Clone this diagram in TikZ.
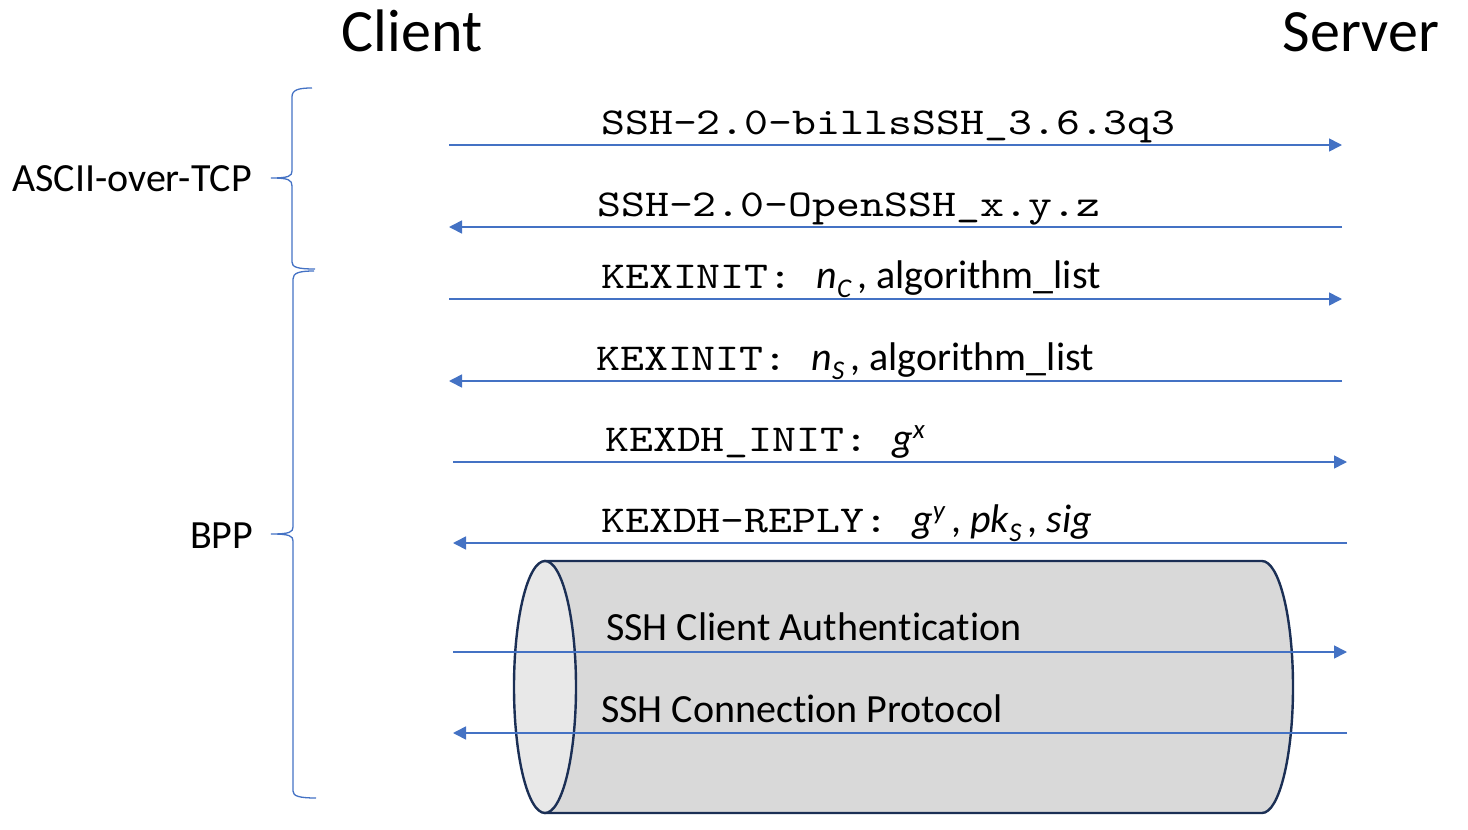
\documentclass[tikz,border=0pt]{standalone}
\usepackage{fontspec}
\setmainfont{Carlito}[Ligatures=NoCommon]
\newfontfamily\cour{lmmono10-regular.otf}[FakeStretch=1.2]
\usetikzlibrary{arrows.meta}
\definecolor{arrowblue}{HTML}{4472C4}
\definecolor{cylline}{HTML}{1B2F55}
\definecolor{cylbody}{HTML}{D9D9D9}
\definecolor{cylface}{HTML}{E8E8E8}
\newcommand\msgtt[1]{{\cour\fontsize{38}{44}\selectfont #1}}
\newcommand\lowidx[1]{\raisebox{-9pt}{\fontsize{27}{30}\selectfont\itshape #1}}
\newcommand\highidx[1]{\raisebox{13pt}{\fontsize{27}{30}\selectfont\itshape #1}}
\newcommand\cgap{\hspace{6pt}}
\begin{document}
\begin{tikzpicture}[x=1pt,y=-1pt,
  msg/.style={draw=arrowblue, line width=1.6pt, -{Triangle[length=13pt,width=13pt]}},
  brace/.style={draw=arrowblue, line width=1.3pt},
  lbl/.style={anchor=base west, inner sep=0pt, font=\fontsize{40}{48}\selectfont},
  head/.style={anchor=base, inner sep=0pt, font=\fontsize{60}{72}\selectfont},
  cylstyle/.style={draw=cylline, line width=2.4pt}]
\useasboundingbox (0,0) rectangle (1468,830);

% headings
\node[head] (client) at (412,51) {Client};
\node[head] (server) at (1361,51) {Server};

% side labels
\node[lbl] (ascii) at (12,191) {ASCII-over-TCP};
\node[lbl] (bpp) at (190,548) {BPP};

% braces
\draw[brace] (312,88) .. controls (298,88) and (292,90) .. (292,97) -- (292,171)
  .. controls (292,176) and (289,178) .. (271,178)
  .. controls (289,178) and (292,180) .. (292,186) -- (292,262)
  .. controls (292,267) and (297,269) .. (315,269);
\draw[brace] (314,271) .. controls (299,271) and (293,273) .. (293,279) -- (293,527)
  .. controls (293,532) and (290,534) .. (271,534)
  .. controls (290,534) and (293,536) .. (293,541) -- (293,791)
  .. controls (293,796) and (299,798) .. (316,798);

% cylinder
\path[fill=cylbody, cylstyle] (545,561) -- (1262,561)
  .. controls (1279,561) and (1293,617) .. (1293,687)
  .. controls (1293,757) and (1279,813) .. (1262,813) -- (545,813) -- cycle;
\draw[cylstyle, fill=cylface] (545,687) ellipse [x radius=31pt, y radius=126pt];

% end points
\coordinate (c1) at (449,145); \coordinate (s1) at (1342,145);
\coordinate (c2) at (449,227); \coordinate (s2) at (1342,227);
\coordinate (c3) at (449,299); \coordinate (s3) at (1342,299);
\coordinate (c4) at (449,381); \coordinate (s4) at (1342,381);
\coordinate (c5) at (453,462); \coordinate (s5) at (1347,462);
\coordinate (c6) at (453,543); \coordinate (s6) at (1347,543);
\coordinate (c7) at (453,652); \coordinate (s7) at (1347,652);
\coordinate (c8) at (453,733); \coordinate (s8) at (1347,733);

\draw[msg] (c1) -- (s1);
\draw[msg] (s2) -- (c2);
\draw[msg] (c3) -- (s3);
\draw[msg] (s4) -- (c4);
\draw[msg] (c5) -- (s5);
\draw[msg] (s6) -- (c6);
\draw[msg] (c7) -- (s7);
\draw[msg] (s8) -- (c8);

% message labels
\node[lbl] (m1) at (601,134) {\msgtt{SSH-2.0-billsSSH\_3.6.3q3}};
\node[lbl] (m2) at (597,216) {\msgtt{SSH-2.0-OpenSSH\_x.y.z}};
\node[lbl] (m3) at (601,288) {\msgtt{KEXINIT:\ }\textit{n}\lowidx{C}\cgap, algorithm\_list};
\node[lbl] (m4) at (596,370) {\msgtt{KEXINIT:\ }\textit{n}\lowidx{S}\cgap, algorithm\_list};
\node[lbl] (m5) at (605,451) {\msgtt{KEXDH\_INIT:\ }\textit{g}\highidx{x}};
\node[lbl] (m6) at (601,532) {\msgtt{KEXDH-REPLY:\ }\textit{g}\highidx{y}\cgap, \textit{pk}\lowidx{S}\cgap, \textit{sig}};
\node[lbl] (m7) at (606,640) {SSH Client Authentication};
\node[lbl] (m8) at (601,722) {SSH Connection Protocol};
\end{tikzpicture}
\end{document}
